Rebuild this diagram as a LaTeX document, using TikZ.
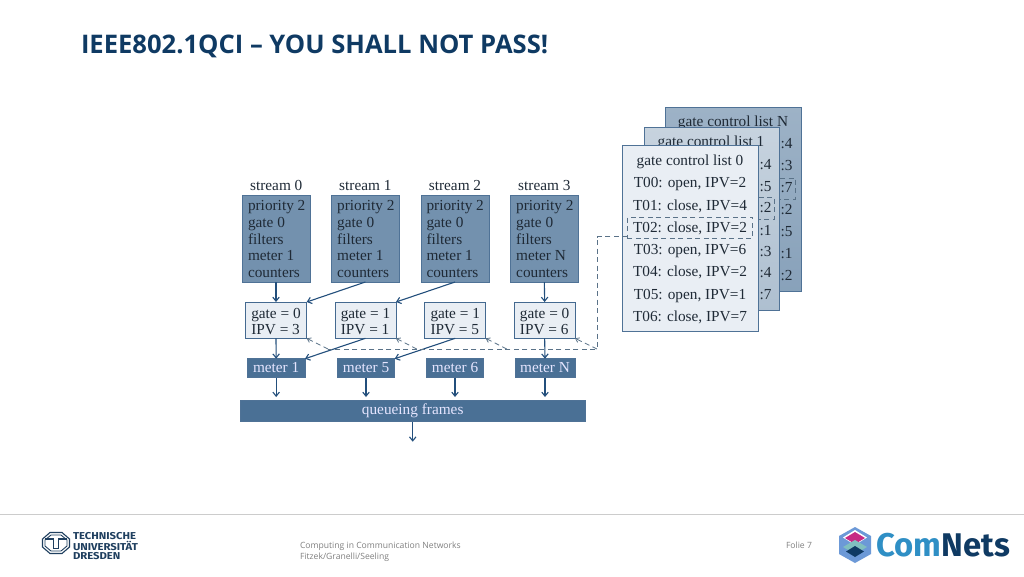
\documentclass[tikz,border=0pt]{standalone}
\usepackage{fontspec}
\setmainfont{Liberation Serif}
\newfontfamily\opensans{Open Sans}
\newfontfamily\firab{Fira Sans}[UprightFont=*,BoldFont=* Bold]
\newfontfamily\tudfont{Fira Sans Bold}[FakeStretch=1.13]
\usetikzlibrary{arrows.meta}
\definecolor{dkblue}{HTML}{234F7C}
\definecolor{txt}{HTML}{1F2A36}
\definecolor{titleblue}{HTML}{0F3A63}
\definecolor{streamfill}{HTML}{7391AE}
\definecolor{gatefill}{HTML}{E9EEF4}
\definecolor{meterfill}{HTML}{4A7095}
\definecolor{tudblue}{HTML}{1F3F5F}
\definecolor{dashcol}{HTML}{5A7288}
\tikzset{
 x=1pt,y=-1pt,
 every node/.style={inner sep=0pt,outer sep=0pt,text=txt},
 ser/.style={font=\fontsize{15.3}{15.8}\selectfont,anchor=base},
 serw/.style={font=\fontsize{15.3}{15.8}\selectfont,anchor=base west},
 meterbox/.style={fill=meterfill,draw=dkblue!80,line width=.6pt},
 flow/.style={draw=dkblue,line width=1.1pt,-{Straight Barb[length=4pt,width=6.5pt]}},
 dashline/.style={draw=dashcol,line width=.8pt,dash pattern=on 5pt off 3.5pt},
 dasharr/.style={dashline,-{Straight Barb[length=3.5pt,width=5pt]}},
 sheet/.style={draw=dkblue!80,line width=.9pt},
 foot/.style={anchor=west,text=black!50,font=\opensans\fontsize{8.6}{11}\selectfont},
 tudtext/.style={anchor=west,text=tudblue,font=\tudfont\fontsize{10}{10}\selectfont},
}
\begin{document}
\begin{tikzpicture}
\useasboundingbox (0,0) rectangle (1024,576);
\fill[white] (0,0) rectangle (1024,576);
\node[anchor=west,text=titleblue,font=\opensans\bfseries\fontsize{25.6}{30}\selectfont] (title) at (81,46.8) {IEEE802.1QCI – YOU SHALL NOT PASS!};

% stream boxes
\foreach \n/\xa/\xb/\lbl/\m in {0/242.5/310/0/1,1/331.7/399/1/1,2/421/489/2/1,3/510.7/578/3/N}{
  \node[draw=dkblue!80,line width=.9pt,fill=streamfill,anchor=north west,minimum width=\xb-\xa,minimum height=86.3] (s\n) at (\xa,195.7) {};
  \node[ser] (sl\n) at ({(\xa+\xb)/2},190) {stream \lbl};
  \node[anchor=north west,align=left,font=\fontsize{15.3}{16.7}\selectfont] (st\n) at (\xa+5.5,200.6) {priority 2\\gate 0\\filters\\meter \m\\counters};
}
% gate boxes
\foreach \n/\xa/\xb/\g/\p in {0/245.3/306.7/0/3,1/335/396/1/1,2/424.7/485.7/1/5,3/514.3/575/0/6}{
  \node[draw=dkblue!85,line width=.9pt,fill=gatefill,anchor=north west,minimum width=\xb-\xa,minimum height=36.3] (g\n) at (\xa,302) {};
  \node[anchor=center,align=left,font=\fontsize{15.3}{15.8}\selectfont] (gt\n) at ({(\xa+\xb)/2},321.2) {gate = \g\\IPV = \p};
}
% meters
\foreach \n/\xa/\xb/\t in {0/247.3/305/meter 1,1/337.3/394.7/meter 5,2/426.7/483.3/meter 6,3/515/575/meter N}{
  \node[meterbox,anchor=north west,minimum width=\xb-\xa,minimum height=19] (m\n) at (\xa,358.7) {};
  \node[ser,text=white!90!blue] (mt\n) at ({(\xa+\xb)/2},372.7) {\t};
}
% queue
\node[meterbox,anchor=north west,minimum width=345.7,minimum height=21.7] (q) at (240,400) {};
\node[ser,text=white!90!blue] (qt) at (412.7,414) {queueing frames};
\coordinate (qend) at (412.7,441.7);
\draw[flow] (q.south -| qend) -- (qend);

% solid arrows
\draw[flow] (s0.south -| g0.center) -- (g0.north);
\draw[flow] (s1.south) -- (g0.north east);
\draw[flow] (s2.south) -- (g1.north east);
\draw[flow] (s3.south) -- (g3.north);
\draw[flow] (g0.south) -- (m0.north);
\draw[flow] (g1.south) -- (m0.north east);
\draw[flow] (g2.south) -- (m1.north east);
\draw[flow] (g3.south) -- (m3.north);
\foreach \n in {0,1,2,3}{ \coordinate (qa\n) at (m\n.south |- 0,397); \draw[flow] (m\n.south) -- (qa\n); }

% gate control lists
\path[sheet,top color=streamfill!70!white,bottom color=streamfill!85!white] (665.3,107.3) rectangle (801.7,291);
\node[ser] (ln) at (733,126.5) {gate control list N};
\foreach \v/\t in {148.3/:4,170/:3,192.3/:7,214.3/:2,236/:5,258.3/:1,280/:2}{\node[serw] at (780.5,\v) {\t};}
\draw[dashline] (780,178) -- (795.3,178) -- (795.3,199) -- (780,199);

\path[sheet,top color=streamfill!40!white,bottom color=streamfill!58!white] (644.3,127.3) rectangle (779.3,310.7);
\node[ser] (l1) at (711,146) {gate control list 1};
\foreach \v/\t in {169/:4,191/:5,212.5/:2,235/:1,256.7/:3,277.7/:4,299/:7}{\node[serw] at (759.5,\v) {\t};}
\draw[dashline] (758.5,197.7) -- (774.3,197.7) -- (774.3,219.3) -- (758.5,219.3);

\path[sheet,fill=gatefill] (622.7,145.7) rectangle (758.3,331.7);
\node[ser] (l0) at (690,165) {gate control list 0};
\foreach \v/\t in {187.3/{T00: open, IPV=2},210/{T01: close, IPV=4},232.3/{T02: close, IPV=2},254/{T03: open, IPV=6},276.7/{T04: close, IPV=2},299/{T05: open, IPV=1},321.3/{T06: close, IPV=7}}{\node[ser] at (690,\v) {\t};}
\node[dashline,draw,anchor=north west,minimum width=125.4,minimum height=21] (sel) at (627.3,217.3) {};

% dashed control lines
\coordinate (d0) at (597,236.5);
\coordinate (d1) at (597,349);
\coordinate (b0) at (328,349);
\coordinate (b1) at (416.7,349);
\coordinate (b2) at (506.7,349);
\draw[dashline] (sel.west |- d0) -- (d0) -- (d1) -- (b0);
\draw[dasharr] (b0) -- (g0.south east);
\draw[dasharr] (b1) -- (g1.south east);
\draw[dasharr] (b2) -- (g2.south east);
\draw[dasharr] (d1) -- (g3.south east);

% footer
\draw[black!20,line width=1pt] (0,514.5) -- (1024,514.5);
\node[foot] (foot1) at (300,546.5) {Computing in Communication Networks};
\node[foot] (foot2) at (300,557) {Fitzek/Granelli/Seeling};
\node[foot] (folie) at (786,545) {Folie 7};

% TU Dresden
\draw[tudblue,line width=1.1pt] (50,532.5) -- (62,532.5) -- (69.5,539) -- (69.5,547) -- (62,553.5) -- (50,553.5) -- (42.5,547) -- (42.5,539) -- cycle;
\draw[tudblue,line width=.9pt] (51,535) -- (61,535) -- (67,540) -- (67,546) -- (61,551) -- (51,551) -- (45,546) -- (45,540) -- cycle;
\draw[tudblue,line width=1.1pt] (45,539) -- (53.5,539) -- (53.5,548.5) -- (58.5,548.5) -- (58.5,539) -- (67,539);
\node[tudtext] (tu1) at (73,536) {TECHNISCHE};
\node[tudtext] (tu2) at (73,546.2) {UNIVERSITÄT};
\node[tudtext] (tu3) at (73,556) {DRESDEN};

% ComNets
\fill[cyan!50!blue!60!white] (855,527) -- (871,536) -- (871,554) -- (855,563) -- (839,554) -- (839,536) -- cycle;
\fill[white] (855,530) -- (867,537.5) -- (855,545) -- (843,537.5) -- cycle;
\fill[magenta!80!black] (855,532) -- (865,538) -- (855,544) -- (845,538) -- cycle;
\fill[teal!50!white] (855,540) -- (867,547) -- (855,554) -- (843,547) -- cycle;
\fill[titleblue] (855,546) -- (864,551.5) -- (855,557) -- (846,551.5) -- cycle;
\node[anchor=west,font=\firab\bfseries\fontsize{32.8}{35}\selectfont] (cn) at (876.5,545) {\textcolor[HTML]{2F8FC5}{Com}\textcolor[HTML]{0F3A63}{Nets}};
\end{tikzpicture}
\end{document}
